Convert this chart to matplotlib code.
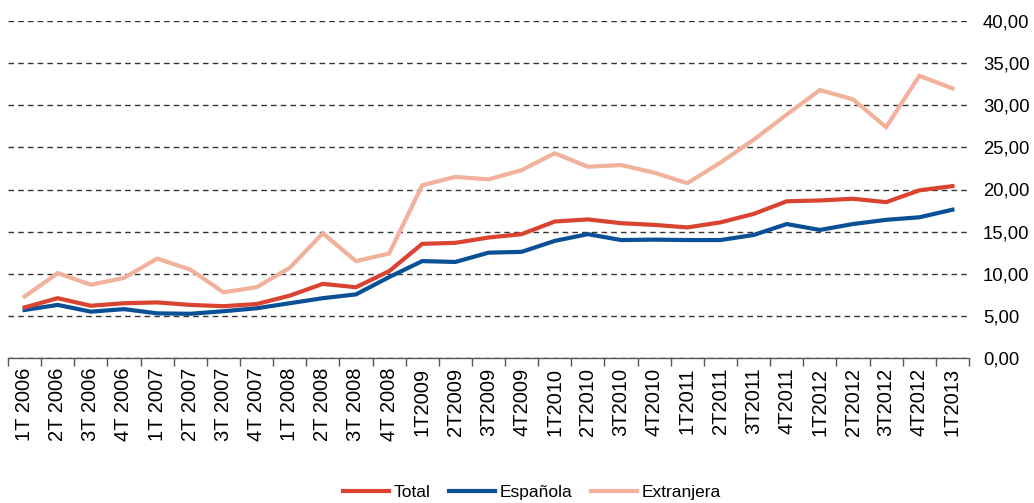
import matplotlib.pyplot as plt
from matplotlib.ticker import FixedLocator

# Datos
trimestres = ['1T 2006', '2T 2006', '3T 2006', '4T 2006',
              '1T 2007', '2T 2007', '3T 2007', '4T 2007',
              '1T 2008', '2T 2008', '3T 2008', '4T 2008',
              '1T2009', '2T2009', '3T2009', '4T2009',
              '1T2010', '2T2010', '3T2010', '4T2010',
              '1T2011', '2T2011', '3T2011', '4T2011',
              '1T2012', '2T2012', '3T2012', '4T2012',
              '1T2013']
total = [6.0, 7.1, 6.2, 6.5, 6.6, 6.3, 6.15, 6.4, 7.4, 8.8, 8.4, 10.3,
         13.55, 13.67, 14.3, 14.7, 16.2, 16.45, 16.0, 15.8, 15.5, 16.1,
         17.1, 18.6, 18.7, 18.9, 18.5, 19.9, 20.4]
espanola = [5.7, 6.3, 5.5, 5.8, 5.3, 5.25, 5.55, 5.9, 6.5, 7.1, 7.55, 9.6,
            11.5, 11.4, 12.5, 12.6, 13.9, 14.7, 14.0, 14.05, 14.0, 14.0,
            14.6, 15.9, 15.2, 15.9, 16.4, 16.7, 17.6]
extranjera = [7.3, 10.07, 8.7, 9.5, 11.8, 10.5, 7.8, 8.4, 10.7, 14.8, 11.5, 12.4,
              20.5, 21.5, 21.2, 22.3, 24.3, 22.7, 22.9, 22.0, 20.75, 23.2,
              25.9, 28.9, 31.8, 30.7, 27.4, 33.5, 32.0]
yticks = [0, 5, 10, 15, 20, 25, 30, 35, 40]

plt.rcParams['font.family'] = ['Liberation Sans', 'DejaVu Sans']

fig = plt.figure(figsize=(10.34, 5.03), dpi=100)
ax = fig.add_axes([8 / 1034, 1 - 358 / 503, (969 - 8) / 1034, (358 - 21) / 503])

x = list(range(len(trimestres)))
ax.plot(x, extranjera, color='#f2b19b', lw=3, label='Extranjera', solid_joinstyle='miter')
ax.plot(x, espanola, color='#0a5096', lw=3, label='Española', solid_joinstyle='miter')
ax.plot(x, total, color='#d9432f', lw=3, label='Total', solid_joinstyle='miter')

ax.set_xlim(-0.5, len(trimestres) - 0.5)
ax.set_ylim(0, 40)

ax.yaxis.tick_right()
ax.set_yticks(yticks)
ax.set_yticklabels([('%.2f' % v).replace('.', ',') for v in yticks], fontsize=13.3)
ax.tick_params(axis='y', length=0, pad=10)
ax.yaxis.grid(True, color='#333333', ls=(0, (4, 3)), lw=1)
ax.set_axisbelow(True)

ax.set_xticks(x)
ax.set_xticklabels(trimestres, rotation=90, fontsize=14.5)
ax.xaxis.set_minor_locator(FixedLocator([i - 0.5 for i in range(len(trimestres) + 1)]))
ax.tick_params(axis='x', which='major', length=0, pad=7)
ax.tick_params(axis='x', which='minor', length=6, width=1, color='#555555')

for s in ['top', 'left', 'right']:
    ax.spines[s].set_visible(False)
ax.spines['bottom'].set_color('#555555')
ax.spines['bottom'].set_linewidth(1)

handles, labels = ax.get_legend_handles_labels()
orden = [2, 1, 0]
fig.legend([handles[i] for i in orden], [labels[i] for i in orden],
           loc='center', bbox_to_anchor=(532 / 1034, 1 - 492 / 503), ncol=3,
           frameon=False, handlelength=2.65, handletextpad=0.23,
           columnspacing=1.1, prop={'family': 'Liberation Sans', 'size': 12.5})

fig.savefig('out.png', dpi=100)
